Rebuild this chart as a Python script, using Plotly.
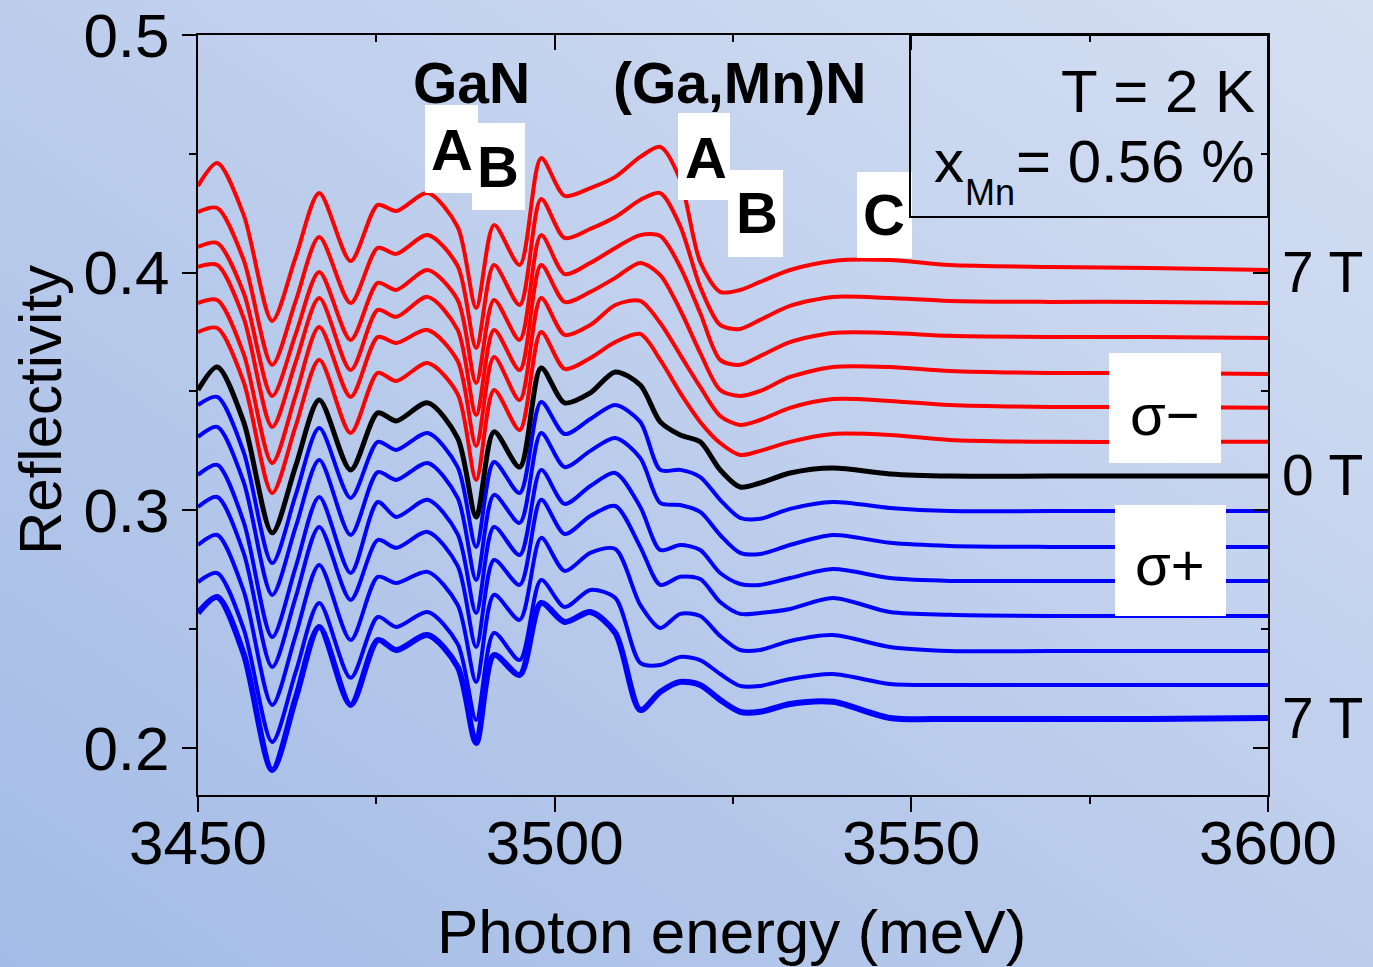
import base64
import plotly.graph_objects as go

# ---------------- data ----------------
energy_meV = [3450, 3452.7, 3456.4, 3460.4, 3463.7, 3467.0, 3471.4, 3475.2, 3477.8, 3482.2,
              3486.4, 3489.0, 3491.5, 3495.1, 3498.1, 3501.4, 3505.0, 3508.5, 3512.0, 3514.8,
              3517.6, 3520.4, 3523.2, 3526.0, 3528.8, 3533.0, 3539.0, 3547.0, 3555.4, 3569.4,
              3583.5, 3600]

# sigma-minus (red), from 7 T (top) downwards
sm_7 = [0.4365, 0.4461, 0.4243, 0.3797, 0.4066, 0.4335, 0.4049, 0.4285, 0.4259, 0.4335, 0.4192, 0.3851, 0.4200, 0.4032, 0.4482, 0.4323, 0.4356, 0.4403, 0.4487, 0.4529, 0.4390, 0.4045, 0.3919, 0.3927, 0.3961, 0.4011, 0.4049, 0.4053, 0.4032, 0.4024, 0.4020, 0.4011]
sm_6 = [0.4255, 0.4272, 0.4053, 0.3612, 0.3881, 0.4150, 0.3872, 0.4104, 0.4079, 0.4158, 0.4028, 0.3683, 0.4032, 0.3864, 0.4310, 0.4146, 0.4184, 0.4234, 0.4306, 0.4335, 0.4196, 0.3940, 0.3780, 0.3763, 0.3801, 0.3860, 0.3898, 0.3893, 0.3881, 0.3877, 0.3877, 0.3872]
sm_5 = [0.4108, 0.4125, 0.3915, 0.3481, 0.3742, 0.4003, 0.3717, 0.3957, 0.3927, 0.4011, 0.3885, 0.3536, 0.3885, 0.3717, 0.4158, 0.3994, 0.4041, 0.4104, 0.4158, 0.4154, 0.4024, 0.3830, 0.3633, 0.3612, 0.3649, 0.3708, 0.3746, 0.3746, 0.3734, 0.3729, 0.3729, 0.3725]
sm_4 = [0.4024, 0.4032, 0.3809, 0.3351, 0.3624, 0.3893, 0.3590, 0.3843, 0.3814, 0.3898, 0.3759, 0.3401, 0.3759, 0.3590, 0.4032, 0.3877, 0.3919, 0.3978, 0.4041, 0.3990, 0.3843, 0.3662, 0.3506, 0.3481, 0.3502, 0.3561, 0.3603, 0.3603, 0.3586, 0.3578, 0.3578, 0.3574]
sm_3 = [0.3872, 0.3885, 0.3658, 0.3199, 0.3485, 0.3771, 0.3477, 0.3729, 0.3704, 0.3759, 0.3628, 0.3271, 0.3645, 0.3464, 0.3893, 0.3738, 0.3780, 0.3864, 0.3881, 0.3788, 0.3654, 0.3519, 0.3397, 0.3359, 0.3380, 0.3431, 0.3468, 0.3460, 0.3443, 0.3435, 0.3435, 0.3431]
sm_2 = [0.3750, 0.3767, 0.3540, 0.3073, 0.3355, 0.3633, 0.3325, 0.3578, 0.3544, 0.3620, 0.3489, 0.3128, 0.3506, 0.3338, 0.3750, 0.3595, 0.3641, 0.3708, 0.3742, 0.3633, 0.3494, 0.3372, 0.3283, 0.3233, 0.3250, 0.3288, 0.3321, 0.3317, 0.3296, 0.3288, 0.3288, 0.3288]
# zero field (black)
zero_field = [0.3506, 0.3603, 0.3372, 0.2905, 0.3187, 0.3464, 0.3170, 0.3410, 0.3376, 0.3452, 0.3304, 0.2972, 0.3330, 0.3182, 0.3599, 0.3452, 0.3494, 0.3582, 0.3527, 0.3372, 0.3317, 0.3288, 0.3170, 0.3098, 0.3115, 0.3157, 0.3178, 0.3153, 0.3144, 0.3144, 0.3144, 0.3144]
# sigma-plus (blue), from just below 0 T down to 7 T
sp_1 = [0.3443, 0.3477, 0.3245, 0.2778, 0.3065, 0.3346, 0.3052, 0.3288, 0.3254, 0.3325, 0.3182, 0.2846, 0.3203, 0.3073, 0.3456, 0.3321, 0.3384, 0.3443, 0.3372, 0.3170, 0.3170, 0.3140, 0.3044, 0.2968, 0.2964, 0.3006, 0.3035, 0.3010, 0.2997, 0.2997, 0.2997, 0.2997]
sp_2 = [0.3309, 0.3351, 0.3119, 0.2644, 0.2930, 0.3212, 0.2896, 0.3161, 0.3128, 0.3199, 0.3052, 0.2707, 0.3065, 0.2947, 0.3325, 0.3182, 0.3250, 0.3304, 0.3220, 0.3031, 0.3022, 0.2993, 0.2896, 0.2821, 0.2816, 0.2854, 0.2896, 0.2863, 0.2850, 0.2846, 0.2846, 0.2846]
sp_3 = [0.3149, 0.3191, 0.2951, 0.2467, 0.2762, 0.3056, 0.2736, 0.3035, 0.2972, 0.3044, 0.2900, 0.2568, 0.2930, 0.2812, 0.3170, 0.3027, 0.3102, 0.3157, 0.3014, 0.2833, 0.2854, 0.2833, 0.2736, 0.2690, 0.2686, 0.2715, 0.2753, 0.2715, 0.2703, 0.2703, 0.2703, 0.2703]
sp_4 = [0.3014, 0.3056, 0.2821, 0.2341, 0.2635, 0.2930, 0.2623, 0.2875, 0.2842, 0.2909, 0.2766, 0.2425, 0.2791, 0.2686, 0.3044, 0.2900, 0.2976, 0.3018, 0.2846, 0.2686, 0.2720, 0.2711, 0.2614, 0.2564, 0.2568, 0.2585, 0.2631, 0.2572, 0.2560, 0.2555, 0.2555, 0.2555]
sp_5 = [0.2854, 0.2896, 0.2661, 0.2181, 0.2475, 0.2770, 0.2454, 0.2720, 0.2694, 0.2741, 0.2602, 0.2278, 0.2644, 0.2539, 0.2884, 0.2745, 0.2821, 0.2837, 0.2602, 0.2505, 0.2564, 0.2555, 0.2471, 0.2412, 0.2412, 0.2450, 0.2475, 0.2425, 0.2408, 0.2408, 0.2408, 0.2408]
sp_6 = [0.2698, 0.2736, 0.2501, 0.2025, 0.2320, 0.2610, 0.2295, 0.2551, 0.2509, 0.2572, 0.2438, 0.2118, 0.2484, 0.2370, 0.2707, 0.2593, 0.2665, 0.2631, 0.2358, 0.2349, 0.2383, 0.2370, 0.2311, 0.2261, 0.2261, 0.2290, 0.2311, 0.2269, 0.2265, 0.2265, 0.2265, 0.2265]
sp_7 = [0.2568, 0.2635, 0.2396, 0.1907, 0.2210, 0.2509, 0.2181, 0.2454, 0.2412, 0.2475, 0.2341, 0.2021, 0.2391, 0.2307, 0.2610, 0.2530, 0.2572, 0.2484, 0.2160, 0.2236, 0.2278, 0.2265, 0.2202, 0.2152, 0.2152, 0.2185, 0.2194, 0.2126, 0.2122, 0.2122, 0.2122, 0.2126]

sigma_minus = [sm_7, sm_6, sm_5, sm_4, sm_3, sm_2]
sigma_plus = [sp_1, sp_2, sp_3, sp_4, sp_5, sp_6, sp_7]

x_ticks = [3450, 3500, 3550, 3600]
x_minor = [3475, 3525, 3575]
y_ticks = [0.2, 0.3, 0.4, 0.5]
y_tick_text = ["0.2", "0.3", "0.4", "0.5"]
y_minor = [0.25, 0.35, 0.45]
x_range = [3450, 3600]
y_range = [0.1802, 0.5]

# ---------------- layout geometry ----------------
W, H = 1373, 967
L, R, T, B = 198, 105, 35, 172
PW, PH = W - L - R, H - T - B
FONT = "Liberation Sans, Arial, sans-serif"


def px(xp):
    return (xp - L) / PW


def py(yp):
    return (H - B - yp) / PH


fig = go.Figure()

for ys in sigma_plus:
    fig.add_trace(go.Scatter(x=energy_meV, y=ys, mode="lines",
                             line=dict(color="#0000FF", width=6 if ys is sp_7 else 4,
                                       shape="spline", smoothing=0.8),
                             showlegend=False, hoverinfo="skip"))
fig.add_trace(go.Scatter(x=energy_meV, y=zero_field, mode="lines",
                         line=dict(color="#000000", width=5, shape="spline", smoothing=0.8),
                         showlegend=False, hoverinfo="skip"))
for ys in sigma_minus:
    fig.add_trace(go.Scatter(x=energy_meV, y=ys, mode="lines",
                             line=dict(color="#FF0000", width=4, shape="spline", smoothing=0.8),
                             showlegend=False, hoverinfo="skip"))
# invisible trace to carry the mirrored axes
fig.add_trace(go.Scatter(x=[x_range[0]], y=[y_range[0]], xaxis="x2", yaxis="y2", mode="markers",
                         marker=dict(opacity=0), showlegend=False, hoverinfo="skip"))

axis_common = dict(showgrid=False, zeroline=False, showline=True, linewidth=2, linecolor="black",
                   tickwidth=2, tickcolor="black", automargin=False)

fig.update_layout(
    width=W, height=H, autosize=False,
    margin=dict(l=L, r=R, t=T, b=B, pad=0),
    paper_bgcolor="#BCCDEB", plot_bgcolor="rgba(0,0,0,0)",
    font=dict(family=FONT, color="black"),
    xaxis=dict(range=x_range, tickvals=x_ticks, ticks="outside", ticklen=15,
               tickfont=dict(size=62, family=FONT), ticklabelstandoff=-22,
               minor=dict(tickvals=x_minor, ticks="outside", ticklen=7, tickwidth=2, tickcolor="black", showgrid=False),
               **axis_common),
    yaxis=dict(range=y_range, tickvals=y_ticks, ticktext=y_tick_text, ticks="outside", ticklen=14,
               tickfont=dict(size=62, family=FONT), ticklabelstandoff=0,
               minor=dict(tickvals=y_minor, ticks="outside", ticklen=7, tickwidth=2, tickcolor="black", showgrid=False),
               **axis_common),
    xaxis2=dict(range=x_range, overlaying="x", side="top", anchor="y2", tickvals=x_ticks, ticks="inside",
                ticklen=15, showticklabels=False,
                minor=dict(tickvals=x_minor, ticks="inside", ticklen=7, tickwidth=2, tickcolor="black", showgrid=False),
                **axis_common),
    yaxis2=dict(range=y_range, overlaying="y", side="right", anchor="x2", tickvals=y_ticks, ticks="inside",
                ticklen=15, showticklabels=False,
                minor=dict(tickvals=y_minor, ticks="inside", ticklen=7, tickwidth=2, tickcolor="black", showgrid=False),
                **axis_common),
)

# background gradient over the whole page
svg = ("<svg xmlns='http://www.w3.org/2000/svg' width='1373' height='967' viewBox='0 0 1373 967' "
       "preserveAspectRatio='none'><defs><linearGradient id='g' x1='0' y1='1' x2='1' y2='0'>"
       "<stop offset='0' stop-color='#A3BBE6'/><stop offset='1' stop-color='#D5DFF2'/></linearGradient></defs>"
       "<rect width='1373' height='967' fill='url(#g)'/></svg>")
src = "data:image/svg+xml;base64," + base64.b64encode(svg.encode()).decode()
fig.add_layout_image(dict(source=src, xref="paper", yref="paper", x=px(0), y=py(0),
                          sizex=px(W) - px(0), sizey=py(0) - py(H), xanchor="left", yanchor="top",
                          sizing="stretch", layer="below"))

# white label boxes
boxes = [(425, 105, 478, 193), (472, 123, 525, 210), (678, 113, 730, 200), (728, 170, 783, 257),
         (857, 172, 912, 258), (1109, 353, 1221, 463), (1115, 505, 1226, 616)]
for x0, y0, x1, y1 in boxes:
    fig.add_shape(type="rect", xref="paper", yref="paper", x0=px(x0), x1=px(x1), y0=py(y1), y1=py(y0),
                  fillcolor="white", line=dict(width=0), layer="above")
# info box frame
fig.add_shape(type="rect", xref="paper", yref="paper", x0=px(910), x1=px(1268), y0=py(217), y1=py(35),
              fillcolor="rgba(0,0,0,0)", line=dict(width=2, color="black"), layer="above")


def label(text, xp, baseline, size, xanchor="center", angle=0):
    cy = baseline - 0.3465 * size
    fig.add_annotation(text=text, xref="paper", yref="paper", x=px(xp), y=py(cy),
                       xanchor=xanchor, yanchor="middle", showarrow=False, textangle=angle,
                       font=dict(size=size, family=FONT, color="black"), borderpad=0)


label("<b>GaN</b>", 471.5, 103, 57)
label("<b>(Ga,Mn)N</b>", 739.5, 103, 57)
label("<b>A</b>", 452, 170, 58)
label("<b>B</b>", 498, 187, 58)
label("<b>A</b>", 706, 178, 58)
label("<b>B</b>", 757, 233, 58)
label("<b>C</b>", 884, 235, 58)
label("σ−", 1165, 435, 58)
label("σ+", 1170, 585, 58)
label("7 T", 1281, 292, 57, xanchor="left")
label("0 T", 1281, 495, 57, xanchor="left")
label("7 T", 1281, 738, 57, xanchor="left")
label("T = 2 K", 1256, 112, 60, xanchor="right")
label("x", 933, 182, 60, xanchor="left")
label("Mn", 964, 205, 36, xanchor="left")
label("= 0.56 %", 1256, 182, 60, xanchor="right")
label("Photon energy (meV)", 731, 953, 62)
fig.add_annotation(text="Reflectivity", xref="paper", yref="paper", x=px(40), y=py(410),
                   xanchor="center", yanchor="middle", showarrow=False, textangle=-90,
                   font=dict(size=60, family=FONT, color="black"), borderpad=0)

fig.write_html("out.html", config={"displayModeBar": False},
               post_script="document.body.style.margin='0';")
